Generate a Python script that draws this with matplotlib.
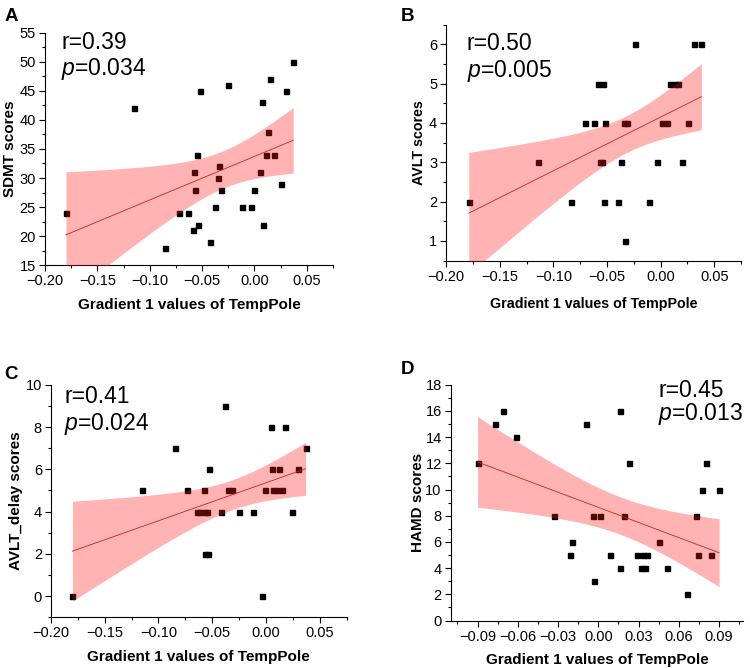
import numpy as np
import matplotlib.pyplot as plt
from matplotlib.ticker import MultipleLocator

plt.rcParams["font.family"] = ["Liberation Sans", "DejaVu Sans"]
plt.rcParams["mathtext.fontset"] = "custom"
plt.rcParams["mathtext.it"] = "Liberation Sans:italic"
plt.rcParams["mathtext.rm"] = "Liberation Sans"
plt.rcParams["axes.linewidth"] = 0.8

# A: SDMT
sdmt_x = [-0.180, -0.115, -0.085, -0.072, -0.063, -0.059, -0.058, -0.057, -0.055, -0.054,
          -0.052, -0.042, -0.038, -0.035, -0.034, -0.032, -0.025, -0.012, -0.003, 0.000,
          0.005, 0.007, 0.008, 0.011, 0.013, 0.015, 0.019, 0.025, 0.030, 0.037]
sdmt_y = [24, 42, 18, 24, 24, 21, 31, 28, 34, 22,
          45, 19, 25, 30, 32, 28, 46, 25, 25, 28,
          31, 43, 22, 34, 38, 47, 34, 29, 45, 50]

# B: AVLT
avlt_x = [-0.179, -0.114, -0.084, -0.071, -0.062, -0.058, -0.057, -0.055, -0.054, -0.053,
          -0.052, -0.040, -0.037, -0.034, -0.033, -0.031, -0.024, -0.011, -0.003, 0.001,
          0.006, 0.009, 0.013, 0.016, 0.020, 0.026, 0.031, 0.038]
avlt_y = [2, 3, 2, 4, 4, 5, 3, 3, 5, 2,
          4, 2, 3, 4, 1, 4, 6, 2, 3, 4,
          4, 5, 5, 5, 3, 4, 6, 6]

# C: AVLT_delay
delay_x = [-0.180, -0.115, -0.085, -0.073, -0.064, -0.061, -0.058, -0.057, -0.057, -0.055,
           -0.054, -0.053, -0.042, -0.038, -0.035, -0.032, -0.025, -0.012, -0.004, -0.001,
           0.005, 0.006, 0.007, 0.010, 0.012, 0.015, 0.018, 0.024, 0.030, 0.037]
delay_y = [0, 5, 7, 5, 4, 4, 5, 2, 4, 4,
           2, 6, 4, 9, 5, 5, 4, 4, 0, 5,
           8, 6, 5, 5, 6, 5, 8, 4, 6, 7]

# D: HAMD
hamd_x = [-0.090, -0.077, -0.071, -0.061, -0.033, -0.021, -0.020, -0.009, -0.004, -0.003,
          0.001, 0.009, 0.016, 0.016, 0.019, 0.023, 0.029, 0.032, 0.033, 0.035,
          0.036, 0.045, 0.051, 0.066, 0.073, 0.074, 0.077, 0.080, 0.084, 0.090]
hamd_y = [12, 15, 16, 14, 8, 5, 6, 15, 8, 3,
          8, 5, 4, 16, 8, 12, 5, 4, 5, 4,
          5, 6, 4, 2, 8, 5, 10, 12, 5, 10]

panels = [
    ("A", sdmt_x, sdmt_y, "SDMT scores", "r=0.39", "$p$=0.034"),
    ("B", avlt_x, avlt_y, "AVLT scores", "r=0.50", "$p$=0.005"),
    ("C", delay_x, delay_y, "AVLT_delay scores", "r=0.41", "$p$=0.024"),
    ("D", hamd_x, hamd_y, "HAMD scores", "r=0.45", "$p$=0.013"),
]

# axes boxes in figure fractions (left, bottom, width, height)
boxes = {
    "A": [0.060, 0.603, 0.384, 0.348],
    "B": [0.595, 0.610, 0.393, 0.353],
    "C": [0.068, 0.076, 0.394, 0.348],
    "D": [0.601, 0.071, 0.390, 0.353],
}
xlims = {"A": (-0.2, 0.075), "B": (-0.2, 0.075), "C": (-0.2, 0.075), "D": (-0.11, 0.108)}
ylims = {"A": (15, 55), "B": (0.5, 6.5), "C": (-1, 10), "D": (0, 18)}
xmaj = {"A": 0.05, "B": 0.05, "C": 0.05, "D": 0.03}
ymaj = {"A": 5, "B": 1, "C": 2, "D": 2}
text_pos = {"A": (0.056, 0.93, 0.819), "B": (0.070, 0.893, 0.78),
            "C": (0.045, 0.921, 0.806), "D": (0.71, 0.947, 0.852)}
letter_pos = {"A": (0.006, 0.988), "B": (0.535, 0.988),
              "C": (0.006, 0.452), "D": (0.535, 0.459)}
xlab_y = {"A": -0.142, "B": -0.154, "C": -0.142, "D": -0.136}
ylab_x = {"A": -0.097, "B": -0.068, "C": -0.095, "D": -0.088}

fig = plt.figure(figsize=(7.5, 6.68), dpi=100)

for name, xs, ys, ylab, rtxt, ptxt in panels:
    ax = fig.add_axes(boxes[name])
    x = np.array(xs)
    y = np.array(ys, dtype=float)

    ax.plot(x, y, "s", color="black", ms=3.6, zorder=2)

    # linear fit with 95% confidence band
    n = len(x)
    slope, icpt = np.polyfit(x, y, 1)
    resid = y - (slope * x + icpt)
    s = np.sqrt(np.sum(resid ** 2) / (n - 2))
    xx = np.linspace(x.min(), x.max(), 200)
    yy = slope * xx + icpt
    se = s * np.sqrt(1 / n + (xx - x.mean()) ** 2 / np.sum((x - x.mean()) ** 2))
    t = 2.05
    ax.plot(xx, yy, color="#b22222", lw=0.6, zorder=3)
    ax.fill_between(xx, yy - t * se, yy + t * se, color="#ff1a1a", alpha=0.33,
                    lw=0, zorder=4)

    ax.set_xlim(*xlims[name])
    ax.set_ylim(*ylims[name])
    ax.xaxis.set_major_locator(MultipleLocator(xmaj[name]))
    ax.xaxis.set_minor_locator(MultipleLocator(xmaj[name] / 2))
    ax.yaxis.set_major_locator(MultipleLocator(ymaj[name]))
    ax.yaxis.set_minor_locator(MultipleLocator(ymaj[name] / 2))
    ax.xaxis.set_major_formatter(plt.FuncFormatter(lambda v, p: f"{v:.2f}".replace("-", "\u2212")))

    for side in ["top", "right"]:
        ax.spines[side].set_visible(False)
    ax.tick_params(which="major", direction="out", length=4, width=0.8, labelsize=10.5, pad=2.5)
    ax.tick_params(which="minor", direction="out", length=2.5, width=0.8)

    fs = 10.3 if name == "B" else 11
    ax.set_xlabel("Gradient 1 values of TempPole", fontweight="bold", fontsize=fs)
    ax.set_ylabel(ylab, fontweight="bold", fontsize=fs)
    ax.xaxis.set_label_coords(0.5, xlab_y[name])
    ax.yaxis.set_label_coords(ylab_x[name], 0.5)

    tx, ty1, ty2 = text_pos[name]
    ax.text(tx, ty1, rtxt, transform=ax.transAxes, fontsize=16.5, va="baseline", zorder=5)
    ax.text(tx, ty2, ptxt, transform=ax.transAxes, fontsize=16.5, va="baseline", zorder=5)

    lx, ly = letter_pos[name]
    fig.text(lx, ly, name, fontsize=13.5, fontweight="bold", va="top")

fig.savefig("out.png", dpi=100)
